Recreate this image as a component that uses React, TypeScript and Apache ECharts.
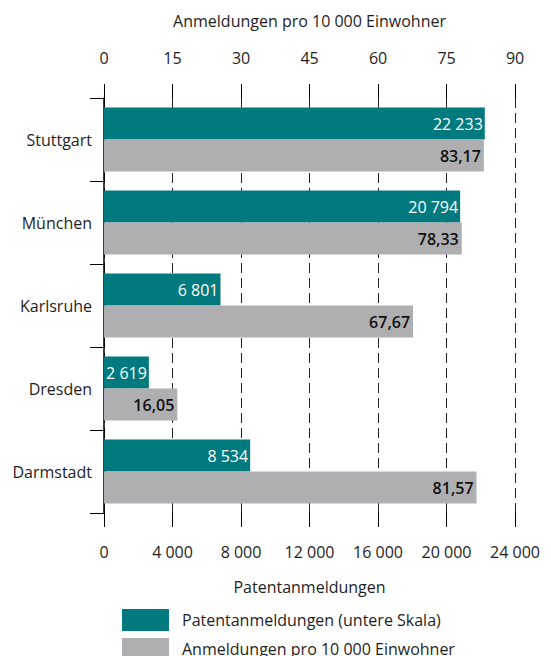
import React, { useEffect, useRef } from "react";
import * as echarts from "echarts";

const categories = ["Stuttgart", "München", "Karlsruhe", "Dresden", "Darmstadt"];
const patents = [22233, 20794, 6801, 2619, 8534];
const perCapita = [83.17, 78.33, 67.67, 16.05, 81.57];
const bottomTicks = { min: 0, max: 24000, interval: 4000 };
const topTicks = { min: 0, max: 90, interval: 15 };
const seriesNames = ["Patentanmeldungen (untere Skala)", "Anmeldungen pro 10 000 Einwohner"];
const axisNames = { bottom: "Patentanmeldungen", top: "Anmeldungen pro 10 000 Einwohner" };

const TEAL = "#00797F";
const GRAY = "#AFAFB2";
const FONT = "'Open Sans', 'Noto Sans', sans-serif";
const TXT = "#1e1e1e";
const FS = 16;

const thousands = (n: number) => String(n).replace(/\B(?=(\d{3})+(?!\d))/g, " ");
const decimal = (n: number) => n.toFixed(2).replace(".", ",");

export default function App() {
  const ref = useRef<HTMLDivElement>(null);
  useEffect(() => {
    if (!ref.current) return;
    document.documentElement.style.overflow = "hidden";
    const chart = echarts.init(ref.current, null, { renderer: "svg" });
    const axisTickStyle = { show: true, length: 14, inside: false, lineStyle: { color: "#000", width: 1 } };
    const legendBase = {
      show: true,
      orient: "vertical",
      left: 114,
      padding: 0,
      itemWidth: 47,
      itemHeight: 22,
      icon: "rect",
      textStyle: { fontFamily: FONT, fontSize: FS, color: TXT, padding: [0, 0, 0, 8] },
    };
    chart.setOption({
      animation: false,
      textStyle: { fontFamily: FONT },
      grid: { left: 96, right: 22, top: 89, bottom: 143, containLabel: false },
      legend: [
        { ...legendBase, top: 601, data: [seriesNames[0]] },
        { ...legendBase, top: 630, data: [seriesNames[1]] },
      ],
      xAxis: [
        {
          type: "value",
          position: "bottom",
          ...bottomTicks,
          name: axisNames.bottom,
          nameLocation: "middle",
          nameGap: 66,
          nameTextStyle: { fontFamily: FONT, fontSize: FS, color: TXT },
          axisLine: { show: false },
          axisTick: axisTickStyle,
          axisLabel: { fontFamily: FONT, fontSize: FS, color: TXT, margin: 31, formatter: (v: number) => thousands(v) },
          splitLine: { show: true, lineStyle: { color: "#222", type: [10, 5], width: 1 } },
        },
        {
          type: "value",
          position: "top",
          ...topTicks,
          name: axisNames.top,
          nameLocation: "middle",
          nameGap: 69,
          nameTextStyle: { fontFamily: FONT, fontSize: FS, color: TXT },
          axisLine: { show: false },
          axisTick: axisTickStyle,
          axisLabel: { fontFamily: FONT, fontSize: FS, color: TXT, margin: 32 },
          splitLine: { show: false },
        },
      ],
      yAxis: {
        type: "category",
        data: categories,
        inverse: true,
        axisLine: { show: true, lineStyle: { color: "#000", width: 1.5 } },
        axisTick: { show: true, length: 14, lineStyle: { color: "#000", width: 1 } },
        axisLabel: { fontFamily: FONT, fontSize: FS, color: TXT, margin: 12 },
        splitLine: { show: false },
      },
      series: [
        {
          name: seriesNames[0],
          type: "bar",
          xAxisIndex: 0,
          data: patents,
          barWidth: 32,
          barGap: "0%",
          itemStyle: { color: TEAL },
          label: {
            show: true,
            position: "insideRight",
            distance: 2,
            color: "#fff",
            fontFamily: FONT,
            fontSize: FS,
            formatter: (p: any) => thousands(p.value),
          },
        },
        {
          name: seriesNames[1],
          type: "bar",
          xAxisIndex: 1,
          data: perCapita,
          barWidth: 32,
          barGap: "0%",
          itemStyle: { color: GRAY },
          label: {
            show: true,
            position: "insideRight",
            distance: 3,
            color: "#111",
            fontFamily: FONT,
            fontSize: FS,
            fontWeight: 600,
            formatter: (p: any) => decimal(p.value),
          },
        },
      ],
    });
    return () => chart.dispose();
  }, []);
  return <div ref={ref} style={{ width: 535, height: 648 }} />;
}
